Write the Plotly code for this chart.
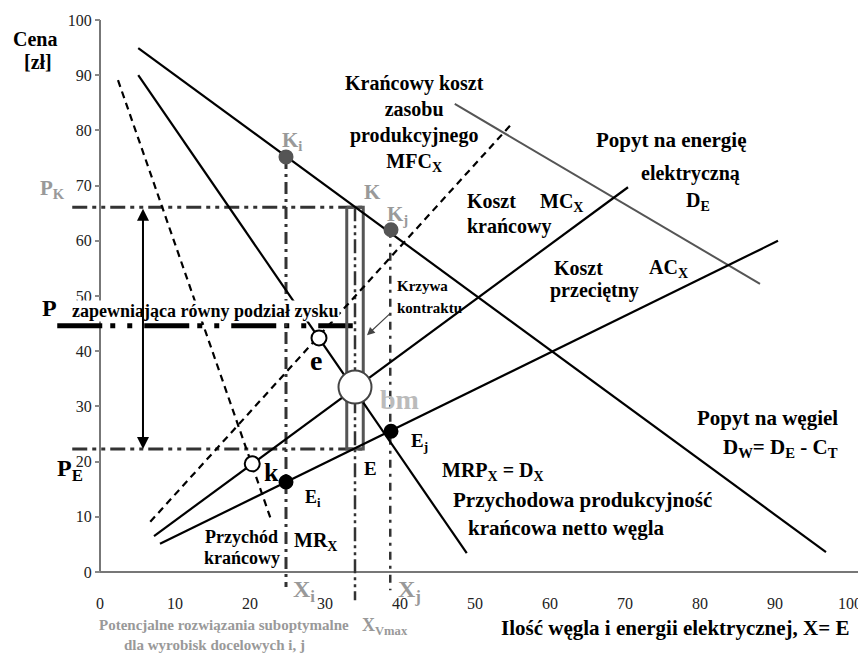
import plotly.graph_objects as go

# ---------------- data ----------------
# straight curves: start/end points in data units
dw_x = [5.1, 96.8];   dw_y = [94.9, 3.6]    # Popyt na węgiel D_W
de_x = [47.3, 88.0];  de_y = [84.8, 52.2]   # Popyt na energię D_E
mrp_x = [5.1, 48.9];  mrp_y = [90.0, 3.4]   # MRP_X = D_X
mr_x = [2.4, 22.9];   mr_y = [89.1, 9.1]    # MR_X (dashed)
mfc_x = [6.7, 55.1];  mfc_y = [9.1, 81.5]   # MFC_X (dashed)
mc_x = [7.2, 70.4];   mc_y = [6.5, 69.7]    # MC_X
ac_x = [8.0, 90.4];   ac_y = [5.1, 60.0]    # AC_X

# characteristic points
ki_pt = [24.8, 75.2]
kj_pt = [38.8, 62.0]
e_pt = [29.2, 42.4]
bm_pt = [34.0, 33.5]
k_pt = [20.3, 19.6]
ei_pt = [24.8, 16.3]
ej_pt = [38.8, 25.5]

# price levels and quantities
p_k = 66.1
p_e = 22.3
p_share = 44.6
x_i = 24.8
x_vmax = 34.0
x_j = 38.7
contract_x = [32.9, 35.1]

x_ticks = [0, 10, 20, 30, 40, 50, 60, 70, 80, 90, 100]
y_ticks = [0, 10, 20, 30, 40, 50, 60, 70, 80, 90, 100]

FONT = "Liberation Serif"
GRAY = "#999999"
DDC = "#333333"   # dash-dot colour

W, H = 866, 653
OFF = 8           # page body margin in the browser
PXU_X, PXU_Y = 7.5, 5.52   # pixels per data unit
X0_PX, Y0_PX = 100, 572    # where the data origin lies on the page

fig = go.Figure()

def line(xs, ys, color="black", width=2.2, dash="solid"):
    fig.add_trace(go.Scatter(x=xs, y=ys, mode="lines",
                             line=dict(color=color, width=width, dash=dash),
                             hoverinfo="skip", showlegend=False))

# axes lines
line([0, 101.5], [0, 0], color="#777777", width=2)
line([0, 0], [0, 100], color="#777777", width=2)

# dash-dot guide lines
DDD = "15px,5px,4px,5px,4px,5px"
line([-3.7, contract_x[1]], [p_k, p_k], color=DDC, width=3, dash=DDD)
line([-3.7, contract_x[1]], [p_e, p_e], color=DDC, width=3, dash=DDD)
line([-5.7, 33.7], [p_share, p_share], color="black", width=5,
     dash="45px,8px,5px,12px,5px,12px")
line([x_i, x_i], [ki_pt[1], -2.7], color=DDC, width=3, dash="12px,5px,3px,5px")
line([x_j, x_j], [kj_pt[1], -3.3], color=DDC, width=2.5, dash="8px,6px,3px,6px")
line([x_vmax, x_vmax], [p_k, -5.1], color=DDC, width=2.5, dash="14px,4px,3px,4px,3px,4px")

# contract rectangle
line([contract_x[0], contract_x[1], contract_x[1], contract_x[0], contract_x[0]],
     [p_k, p_k, p_e, p_e, p_k], color="#555555", width=3)

# curves
line(mr_x, mr_y, dash="7px,5px")
line(mfc_x, mfc_y, dash="7px,5px")
line(dw_x, dw_y)
line(de_x, de_y, color="#555555", width=2)
line(mrp_x, mrp_y)
line(mc_x, mc_y)
line(ac_x, ac_y)

# points
def pts(p, color, fill, size, lw=2):
    fig.add_trace(go.Scatter(x=[p[0]], y=[p[1]], mode="markers",
                             marker=dict(size=size, color=fill, line=dict(color=color, width=lw)),
                             hoverinfo="skip", showlegend=False))

pts(ki_pt, "#555555", "#555555", 13)
pts(kj_pt, "#555555", "#555555", 13)
pts(e_pt, "black", "white", 15)
pts(k_pt, "black", "white", 15)
pts(bm_pt, "#444444", "white", 33)
pts(ei_pt, "black", "black", 13)
pts(ej_pt, "black", "black", 13)

ann = []
def txt(x, y, t, size=20, color="black", xa="center", bold=True, bg=None):
    d = dict(x=x, y=y, xref="x", yref="y", text=(f"<b>{t}</b>" if bold else t),
             showarrow=False, xanchor=xa, yanchor="middle",
             font=dict(family=FONT, size=size, color=color))
    if bg:
        d["bgcolor"] = bg
        d["borderpad"] = 0
    ann.append(d)

txt(-8.67, 96.56, "Cena", 20)
txt(-8.27, 92.39, "[zł]", 20)
txt(-6.4, 69.3, "P<sub>K</sub>", 21, GRAY)
txt(-4.0, 18.4, "P<sub>E</sub>", 24)
txt(-6.67, 47.83, "P", 24)
txt(14.0, 47.28, "zapewniająca równy podział zysku", 18, bg="white")
txt(25.6, 78.0, "K<sub>i</sub>", 21, GRAY)
txt(36.27, 68.84, "K", 21, GRAY)
txt(39.73, 64.6, "K<sub>j</sub>", 21, GRAY)
txt(41.87, 81.2, "Krańcowy koszt<br>zasobu<br>produkcyjnego<br>MFC<sub>X</sub>", 20)
txt(48.67, 67.21, "Koszt", 20, xa="left")
txt(48.67, 62.68, "krańcowy", 20, xa="left")
txt(58.4, 67.0, "MC<sub>X</sub>", 20, xa="left")
txt(76.13, 78.26, "Popyt na energię", 21)
txt(78.67, 72.28, "elektryczną", 20)
txt(79.73, 67.2, "D<sub>E</sub>", 20)
txt(60.27, 55.07, "Koszt", 20, xa="left")
txt(59.73, 50.91, "przeciętny", 20, xa="left")
txt(72.93, 55.0, "AC<sub>X</sub>", 20, xa="left")
txt(39.33, 51.81, "Krzywa", 15, xa="left")
txt(39.33, 47.83, "kontraktu", 15, xa="left")
txt(28.8, 38.3, "e", 28)
txt(39.87, 31.3, "bm", 28, "#bbbbbb")
txt(41.2, 23.5, "E<sub>j</sub>", 19, xa="left")
txt(36.13, 18.84, "E", 19)
txt(22.93, 18.1, "k", 26)
txt(27.07, 13.4, "E<sub>i</sub>", 18, xa="left")
txt(45.33, 18.2, "MRP<sub>X</sub> = D<sub>X</sub>", 20, xa="left")
txt(64.27, 13.04, "Przychodowa produkcyjność", 21)
txt(62.13, 7.97, "krańcowa netto węgla", 21)
txt(98.67, 27.9, "Popyt na węgiel", 21, xa="right")
txt(98.67, 22.4, "D<sub>W</sub>= D<sub>E</sub> - C<sub>T</sub>", 21, xa="right")
txt(18.8, 6.34, "Przychód", 18)
txt(18.93, 2.54, "krańcowy", 18)
txt(25.6, 5.6, "MR<sub>X</sub>", 20, xa="left")
txt(25.4, -3.5, "X<sub>i</sub>", 24, GRAY, xa="left")
txt(39.5, -3.5, "X<sub>j</sub>", 24, GRAY, xa="left")
txt(34.67, -9.8, "X<sub>Vmax</sub>", 18, GRAY, xa="left")
txt(16.53, -9.6, "Potencjalne rozwiązania suboptymalne", 15, GRAY)
txt(15.33, -13.22, "dla wyrobisk docelowych i, j", 15, GRAY)
txt(76.67, -10.14, "Ilość węgla i energii elektrycznej, X= E", 21)

# double arrow between P_K and P_E
ann.append(dict(x=5.73, y=p_e, ax=5.73, ay=p_k, xref="x", yref="y", axref="x", ayref="y",
                text="", showarrow=True, arrowhead=2, startarrowhead=2, arrowside="end+start",
                arrowsize=1.2, arrowwidth=2, arrowcolor="black"))
# contract curve pointer
ann.append(dict(x=35.6, y=42.9, ax=38.9, ay=47.1, xref="x", yref="y", axref="x", ayref="y",
                text="", showarrow=True, arrowhead=2, arrowsize=1.3, arrowwidth=1.2,
                arrowcolor="#444444"))

# axis ranges so that the page pixels line up with the reference
x_lo = (OFF - X0_PX) / PXU_X
x_hi = (OFF + W - X0_PX) / PXU_X
y_hi = (Y0_PX - OFF) / PXU_Y
y_lo = (Y0_PX - OFF - H) / PXU_Y

fig.update_layout(
    width=W, height=H,
    margin=dict(l=0, r=0, t=0, b=0),
    paper_bgcolor="white", plot_bgcolor="white",
    showlegend=False, hovermode=False,
    annotations=ann,
    xaxis=dict(range=[x_lo, x_hi], anchor="free", position=(H - (Y0_PX - OFF)) / H,
               tickvals=x_ticks, showgrid=False, zeroline=False, showline=False,
               ticks="", ticklabelstandoff=20, automargin=False,
               tickfont=dict(family=FONT, size=16, color="#222222")),
    yaxis=dict(range=[y_lo, y_hi], anchor="free", position=(X0_PX - OFF) / W,
               tickvals=y_ticks, showgrid=False, zeroline=False, showline=False,
               ticks="outside", ticklen=5, tickcolor="#888888", tickwidth=1.5,
               automargin=False,
               tickfont=dict(family=FONT, size=16, color="#222222")),
)

fig.write_html("out.html")
